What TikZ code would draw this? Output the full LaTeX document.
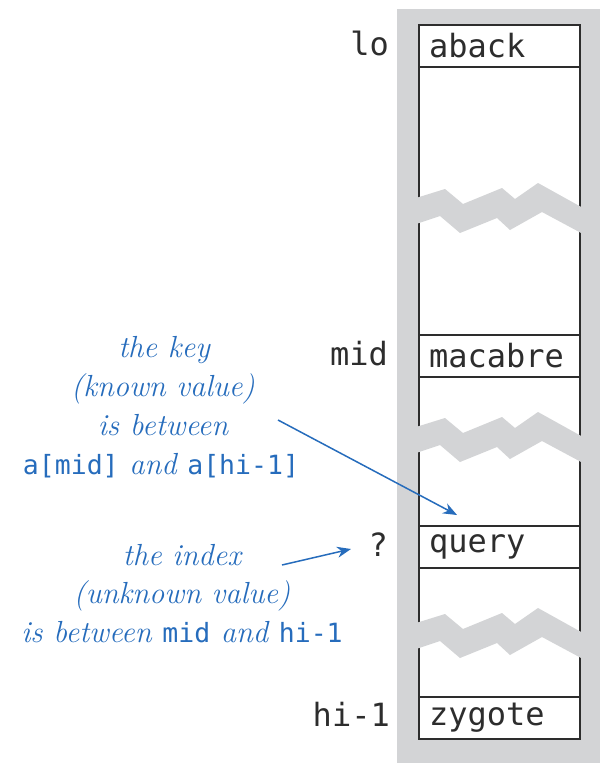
\documentclass[tikz,border=0pt]{standalone}
\usepackage{fontspec}
\setmonofont{DejaVu Sans Mono}
\usetikzlibrary{arrows.meta}
\definecolor{colgray}{RGB}{211,212,214}
\definecolor{bookblue}{RGB}{38,108,188}
\definecolor{inkdark}{RGB}{45,45,45}
\newcommand\bmonofont{\fontsize{26.5}{30}\selectfont\ttfamily\upshape}
\begin{document}
\begin{tikzpicture}[x=1pt,y=-1pt,
  cell/.style={draw=inkdark,line width=1.2pt,minimum width=161pt,minimum height=42pt,
    text width=141pt,inner xsep=10pt,inner ysep=0pt,align=left,
    font=\fontsize{32}{36}\selectfont\ttfamily,text=inkdark},
  idxlabel/.style={anchor=base east,inner sep=0pt,font=\fontsize{32}{36}\selectfont\ttfamily,text=inkdark},
  note/.style={anchor=base,inner sep=0pt,text=bookblue,font=\fontsize{30.5}{34}\selectfont\itshape},
  pointer/.style={draw=bookblue,line width=1.5pt,-{Stealth[length=14pt,width=11pt]}}]
\useasboundingbox (0,0) rectangle (603,763);
% gray column and white array
\fill[colgray] (397,9) rectangle (600,763);
\fill[white] (419,25) rectangle (580,739);
\draw[inkdark,line width=1.2pt] (419,25) -- (419,739) (580,25) -- (580,739);
% cells
\node[cell] (aback) at (499.5,46) {aback};
\node[cell] (macabre) at (499.5,356) {macabre};
\node[cell] (query) at (499.5,547) {query};
\node[cell] (zygote) at (499.5,718) {zygote};
% breaks
\foreach \dy in {0,229,425}{
  \fill[colgray] (416,198+\dy) -- (445,189+\dy) -- (463,204+\dy) -- (502,188+\dy) -- (515,199+\dy)
    -- (538,183+\dy) -- (583,208+\dy) -- (583,234+\dy) -- (542,212+\dy) -- (510,230+\dy)
    -- (497,218+\dy) -- (460,233+\dy) -- (440,216+\dy) -- (416,224+\dy) -- cycle;
}
% index labels
\node[idxlabel] (lo) at (389,55) {lo};
\node[idxlabel] (mid) at (388,365) {mid};
\node[idxlabel] (q) at (388,556) {?};
\node[idxlabel] (hi) at (390,726) {hi-1};
% notes
\node[note] (k1) at (164,357) {the key};
\node[note] (k2) at (163,396) {(known value)};
\node[note] (k3) at (163,435) {is between};
\node[note] (k4) at (161,474) {{\bmonofont a[mid]} and {\bmonofont a[hi-1]}};
\node[note] (i1) at (182,565) {the index};
\node[note] (i2) at (182,603) {(unknown value)};
\node[note] (i3) at (182,642) {is between {\bmonofont mid} and {\bmonofont hi-1}};
% pointers
\coordinate (a1s) at (278,420);
\coordinate (a1e) at (457,515);
\coordinate (a2s) at (282,565);
\coordinate (a2e) at (351,549);
\draw[pointer] (a1s) -- (a1e);
\draw[pointer] (a2s) -- (a2e);
\end{tikzpicture}
\end{document}
